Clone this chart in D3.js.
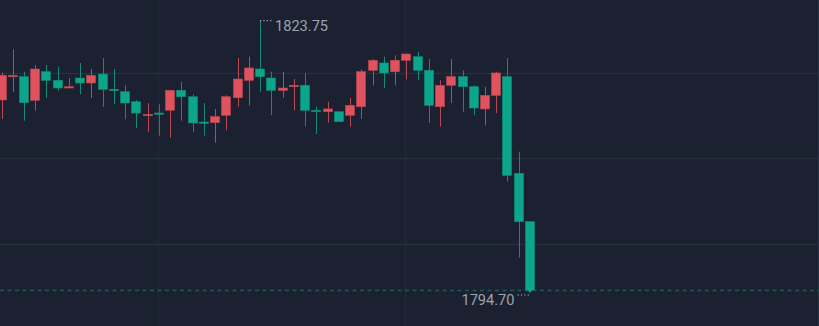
<!DOCTYPE html>
<html>
<head>
<meta charset="utf-8">
<script src="https://cdn.jsdelivr.net/npm/d3@7"></script>
<style>
  html, body { margin: 0; padding: 0; background: #1b2130; overflow: hidden; }
  svg { display: block; }
</style>
</head>
<body>
<svg id="chart"></svg>
<script>
let width = 819, height = 326;

// candle data, one entry per bar
const opens  = [1815.20, 1817.73, 1817.71, 1815.16, 1818.25, 1817.32, 1816.49, 1817.57, 1817.03, 1818.00,
                1816.35, 1816.09, 1815.01, 1813.50, 1813.79, 1814.09, 1816.24, 1815.55, 1812.82, 1812.75,
                1813.55, 1815.44, 1817.32, 1818.54, 1817.57, 1816.24, 1816.63, 1816.78, 1814.09, 1813.93,
                1813.93, 1813.55, 1814.47, 1818.40, 1819.19, 1818.25, 1819.48, 1819.87, 1818.40, 1814.47,
                1816.78, 1817.71, 1816.63, 1814.23, 1815.70, 1817.71, 1807.29, 1802.07];
const highs  = [1818.14, 1820.67, 1818.25, 1818.97, 1818.97, 1818.79, 1817.57, 1819.19, 1818.54, 1819.73,
                1818.54, 1816.78, 1815.20, 1814.87, 1814.73, 1816.24, 1817.17, 1815.81, 1814.87, 1814.23,
                1815.70, 1819.73, 1819.87, 1823.75, 1818.25, 1818.25, 1817.46, 1818.11, 1814.47, 1815.01,
                1813.93, 1815.41, 1818.51, 1819.62, 1819.87, 1820.02, 1820.20, 1820.41, 1819.62, 1817.32,
                1819.62, 1818.40, 1816.78, 1816.63, 1818.25, 1819.73, 1809.62, 1802.07];
const lows   = [1813.15, 1816.09, 1812.96, 1814.04, 1815.41, 1816.20, 1816.49, 1815.81, 1815.41, 1814.44,
                1814.73, 1813.11, 1812.18, 1811.74, 1811.35, 1811.13, 1812.96, 1811.74, 1811.35, 1810.59,
                1811.93, 1814.47, 1814.62, 1816.09, 1813.55, 1815.44, 1814.09, 1812.32, 1811.53, 1812.75,
                1812.86, 1812.32, 1813.15, 1816.78, 1816.49, 1816.78, 1817.43, 1817.32, 1812.72, 1812.32,
                1814.87, 1813.93, 1813.55, 1812.47, 1813.79, 1806.38, 1798.19, 1794.70];
const closes = [1817.86, 1817.84, 1814.91, 1818.54, 1817.32, 1816.49, 1816.63, 1817.03, 1817.86, 1816.35,
                1816.20, 1814.87, 1813.79, 1813.65, 1813.65, 1816.24, 1815.55, 1812.72, 1812.72, 1813.40,
                1815.55, 1817.46, 1818.65, 1817.71, 1816.24, 1816.49, 1816.78, 1814.09, 1813.93, 1814.23,
                1812.86, 1814.62, 1818.25, 1819.48, 1818.11, 1819.48, 1820.16, 1818.40, 1814.62, 1816.78,
                1817.71, 1816.63, 1814.33, 1815.70, 1818.11, 1807.07, 1802.07, 1794.70];
const bars = d3.range(opens.length).map(String);

// price levels of the horizontal grid and the highlighted extremes
const gridPrices = [1818.1, 1808.9, 1799.7];
const gridBars = ["14", "36"];
const maxPrice = 1823.75, minPrice = 1794.70;

const upColor = "#e0525e", downColor = "#0ba68c";

let svg = d3.select("#chart").attr("width", width).attr("height", height);
svg.append("rect").attr("width", width).attr("height", height).attr("fill", "#1b2130");

let x = d3.scaleBand()
  .domain(bars)
  .range([-4.12, 535.6])
  .paddingInner(0.2)
  .paddingOuter(0.1);

let y = d3.scaleLinear()
  .domain([minPrice, maxPrice])
  .range([290, 20.7]);

const cx = (b) => Math.round(x(b) + x.bandwidth() / 2) + 0.5;

// grid
let grid = svg.append("g");
grid.selectAll("line.h")
  .data(gridPrices)
  .enter()
  .append("line")
  .attr("x1", 0).attr("x2", width)
  .attr("y1", (d) => Math.round(y(d)) + 0.5)
  .attr("y2", (d) => Math.round(y(d)) + 0.5)
  .attr("stroke", "#272e3c")
  .attr("stroke-width", 1.5);
grid.selectAll("line.v")
  .data(gridBars)
  .enter()
  .append("line")
  .attr("x1", (d) => cx(d) - 1).attr("x2", (d) => cx(d) - 1)
  .attr("y1", 0).attr("y2", height)
  .attr("stroke", "#242b38")
  .attr("stroke-width", 1);
grid.append("line")
  .attr("x1", width - 0.5).attr("x2", width - 0.5)
  .attr("y1", 0).attr("y2", height)
  .attr("stroke", "#2a3140");

// dashed line at the lowest price
svg.append("line")
  .attr("x1", 0).attr("x2", width)
  .attr("y1", Math.round(y(minPrice)) + 0.5)
  .attr("y2", Math.round(y(minPrice)) + 0.5)
  .attr("stroke", "#1d5a55")
  .attr("stroke-width", 1.5)
  .attr("stroke-dasharray", "4,3.5");

// candles
let candles = svg.append("g")
  .selectAll("g")
  .data(bars)
  .enter()
  .append("g");

const colorOf = (i) => closes[i] >= opens[i] ? upColor : downColor;

candles.append("line")
  .attr("x1", (b) => cx(b)).attr("x2", (b) => cx(b))
  .attr("y1", (b, i) => y(highs[i]))
  .attr("y2", (b, i) => y(lows[i]))
  .attr("stroke", (b, i) => colorOf(i))
  .attr("stroke-opacity", 0.8)
  .attr("stroke-width", 1);

candles.append("rect")
  .attr("x", (b) => cx(b) - 0.5 - x.bandwidth() / 2)
  .attr("width", x.bandwidth())
  .attr("y", (b, i) => y(Math.max(opens[i], closes[i])))
  .attr("height", (b, i) => Math.max(1.3, Math.abs(y(opens[i]) - y(closes[i]))))
  .attr("fill", (b, i) => colorOf(i))
  .attr("stroke", (b, i) => d3.color(colorOf(i)).darker(0.4))
  .attr("stroke-width", 0.6);

// max / min markers
let iMax = highs.indexOf(maxPrice), iMin = lows.indexOf(minPrice);
let markers = svg.append("g").attr("font-family", "Roboto, 'Noto Sans', sans-serif")
  .attr("font-size", 14.6).attr("fill", "#9ca3af");

markers.append("line")
  .attr("x1", cx(bars[iMax]) - 0.5).attr("x2", cx(bars[iMax]) + 12)
  .attr("y1", y(maxPrice)).attr("y2", y(maxPrice))
  .attr("stroke", "#aab0bb").attr("stroke-width", 1.2)
  .attr("stroke-dasharray", "1.2,2.2");
markers.append("text")
  .attr("x", cx(bars[iMax]) + 14.5)
  .attr("y", y(maxPrice) + 5.5)
  .attr("dy", "0.35em")
  .text(maxPrice.toFixed(2));

markers.append("path")
  .attr("d", () => {
    let px = cx(bars[iMin]) - 0.5, py = y(minPrice);
    return `M${px - 4},${py - 2} L${px + 4},${py - 2} L${px},${py + 3} Z`;
  })
  .attr("fill", downColor);
markers.append("line")
  .attr("x1", cx(bars[iMin]) - 13).attr("x2", cx(bars[iMin]))
  .attr("y1", y(minPrice) + 5).attr("y2", y(minPrice) + 5)
  .attr("stroke", "#aab0bb").attr("stroke-width", 1.2)
  .attr("stroke-dasharray", "1.2,2.2");
markers.append("text")
  .attr("x", cx(bars[iMin]) - 16)
  .attr("y", y(minPrice) + 10)
  .attr("dy", "0.35em")
  .attr("text-anchor", "end")
  .text(minPrice.toFixed(2));
</script>
</body>
</html>
